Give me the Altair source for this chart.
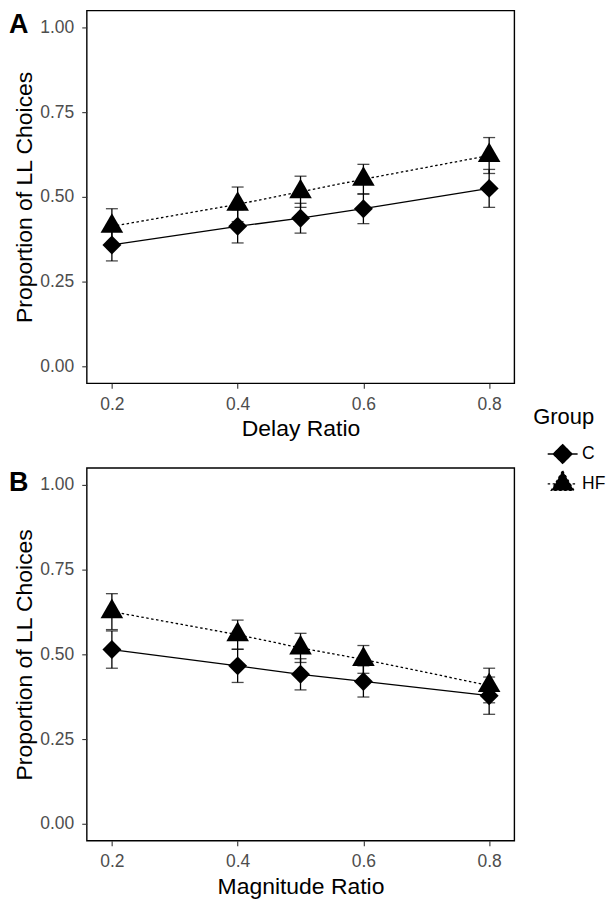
import altair as alt
import pandas as pd

# ---- data ----
ratios = [0.2, 0.4, 0.5, 0.6, 0.8]
groups = ["C", "HF"]

# Panel A: Delay Ratio
delay_C_mean = [0.358, 0.413, 0.437, 0.465, 0.525]
delay_C_se = [0.047, 0.049, 0.044, 0.044, 0.056]
delay_HF_mean = [0.413, 0.478, 0.515, 0.552, 0.622]
delay_HF_se = [0.052, 0.051, 0.046, 0.044, 0.053]

# Panel B: Magnitude Ratio
mag_C_mean = [0.514, 0.466, 0.441, 0.420, 0.378]
mag_C_se = [0.055, 0.049, 0.046, 0.046, 0.055]
mag_HF_mean = [0.626, 0.558, 0.519, 0.485, 0.408]
mag_HF_se = [0.053, 0.043, 0.043, 0.041, 0.051]

y_ticks = [0.0, 0.25, 0.5, 0.75, 1.0]
x_ticks = [0.2, 0.4, 0.6, 0.8]

FONT = "Liberation Sans"
DIAMOND = "M0,-1L1,0L0,1L-1,0Z"
TRIANGLE = "M0,-1.155L1,0.577L-1,0.577Z"
# legend keys: key line plus symbol (drawn slightly shifted right)
LEG_C = "M-0.1,0L1.9,0M0.9,-0.63L1.53,0L0.9,0.63L0.27,0Z"
LEG_HF = "M-0.1,0L1.9,0M0.9,-0.874L1.657,0.437L0.143,0.437Z"


def frame(cm, cs, hm, hs):
    rows = []
    for g, m, s in (("C", cm, cs), ("HF", hm, hs)):
        for r, mv, sv in zip(ratios, m, s):
            rows.append({"ratio": r, "mean": mv, "lo": mv - sv, "hi": mv + sv, "Group": g})
    return pd.DataFrame(rows)


def panel(df, xtitle, letter, with_legend):
    x = alt.X("ratio:Q", scale=alt.Scale(domain=[0.16, 0.84], nice=False, zero=False),
              axis=alt.Axis(values=x_ticks, format=".1f", title=xtitle))
    y = alt.Y("mean:Q", scale=alt.Scale(domain=[-0.05, 1.05], nice=False, zero=False),
              axis=alt.Axis(values=y_ticks, format=".2f", title="Proportion of LL Choices"))
    base = alt.Chart(df).encode(x=x)

    bars = base.mark_rule(color="black", strokeWidth=1.3).encode(
        y=alt.Y("lo:Q"), y2="hi:Q")
    cap_lo = base.mark_tick(orient="horizontal", size=12, thickness=1.3, color="black").encode(
        y=alt.Y("lo:Q"))
    cap_hi = base.mark_tick(orient="horizontal", size=12, thickness=1.3, color="black").encode(
        y=alt.Y("hi:Q"))

    line_c = base.transform_filter(alt.datum.Group == "C").mark_line(
        color="black", strokeWidth=1.3).encode(y=y)
    line_hf = base.transform_filter(alt.datum.Group == "HF").mark_line(
        color="black", strokeWidth=1.3, strokeDash=[2.5, 2.5]).encode(y=y)

    pt_c = base.transform_filter(alt.datum.Group == "C").mark_point(
        shape=DIAMOND, size=361, filled=True, color="black", opacity=1).encode(y=y)
    pt_hf = base.transform_filter(alt.datum.Group == "HF").mark_point(
        shape=TRIANGLE, size=515, filled=True, color="black", opacity=1).encode(y=y)

    lab = alt.Chart(pd.DataFrame({"label": [letter]})).mark_text(
        fontSize=27, fontWeight="bold", font=FONT, align="left", baseline="alphabetic",
        color="black").encode(text="label:N", x=alt.value(-78), y=alt.value(23))

    layers = [bars, cap_lo, cap_hi, line_c, line_hf, pt_c, pt_hf, lab]
    if with_legend:
        leg = alt.Legend(title="Group", orient="none", legendX=448, legendY=398,
                         titleFontSize=22, titleFont=FONT, titleColor="black",
                         titleFontWeight="normal", titlePadding=9,
                         labelFontSize=17.5, labelFont=FONT, labelColor="black",
                         labelOffset=17, rowPadding=1, symbolSize=900,
                         symbolStrokeWidth=1.3, symbolOpacity=1)
        blk = alt.Scale(domain=groups, range=["black", "black"])
        legend_layer = base.mark_point(opacity=0).encode(
            y=y,
            shape=alt.Shape("Group:N", scale=alt.Scale(domain=groups, range=[LEG_C, LEG_HF]),
                            legend=leg),
            strokeDash=alt.StrokeDash("Group:N",
                                      scale=alt.Scale(domain=groups, range=[[1, 0], [2.5, 2.5]]),
                                      legend=leg),
            fill=alt.Fill("Group:N", scale=blk, legend=leg),
            stroke=alt.Stroke("Group:N", scale=blk, legend=leg),
        )
        layers.append(legend_layer)
    return alt.layer(*layers).properties(width=429, height=374)


dfA = frame(delay_C_mean, delay_C_se, delay_HF_mean, delay_HF_se)
dfB = frame(mag_C_mean, mag_C_se, mag_HF_mean, mag_HF_se)

chart = alt.vconcat(
    panel(dfA, "Delay Ratio", "A", True),
    panel(dfB, "Magnitude Ratio", "B", False),
    spacing=25,
).properties(padding=0).configure(font=FONT).configure_view(
    stroke="black", strokeWidth=1.4
).configure_axis(
    grid=False, domain=False, ticks=True, tickSize=5, tickColor="#333333", tickWidth=1.1,
    labelFont=FONT, labelFontSize=17.5, labelColor="#4D4D4D", labelPadding=7,
    titleFont=FONT, titleFontSize=23, titleColor="black", titleFontWeight="normal",
    titlePadding=5,
).configure_axisY(labelPadding=8, titlePadding=3)

chart.save("out.html", embed_options={"renderer": "svg", "actions": False})
